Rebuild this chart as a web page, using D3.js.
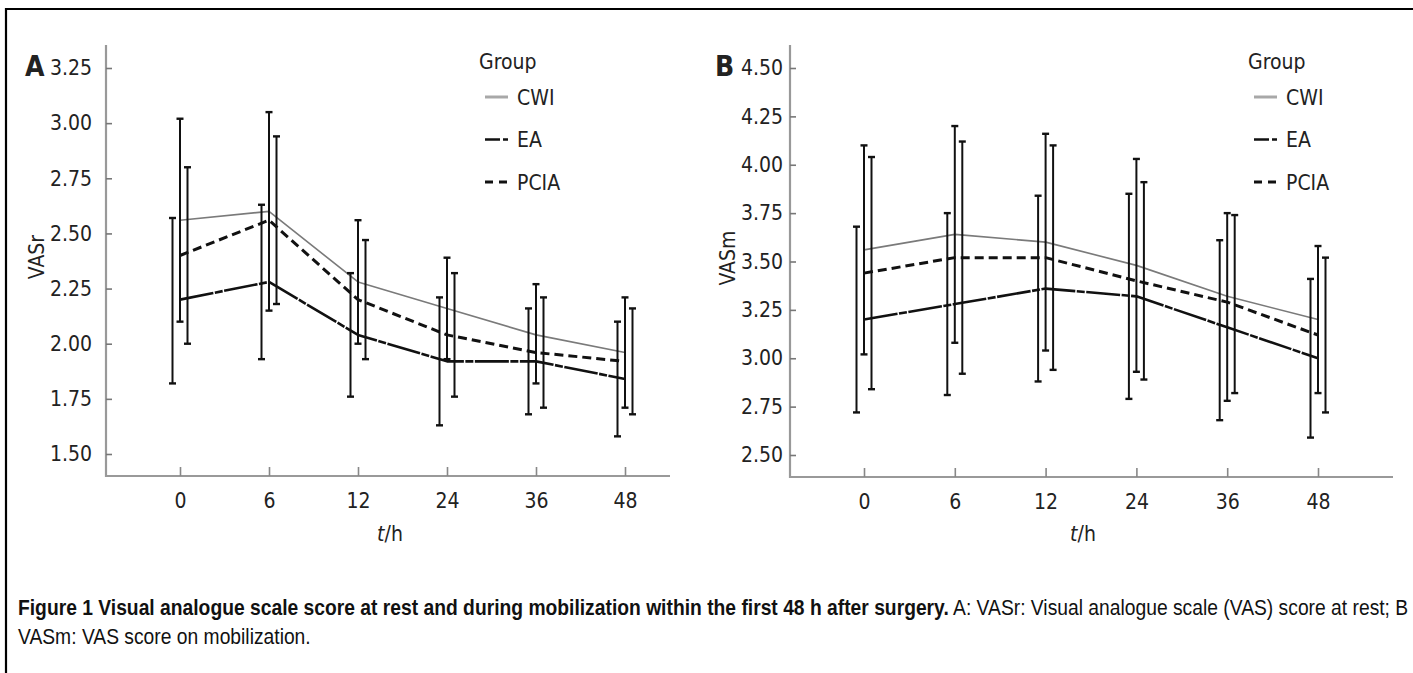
<!DOCTYPE html>
<html>
<head>
<meta charset="utf-8">
<script src="https://cdn.jsdelivr.net/npm/d3@7"></script>
<style>
  html, body { margin: 0; padding: 0; background: #fff; }
  svg { display: block; }
  .tick text, .lbl { font-family: "DejaVu Sans Condensed", "DejaVu Sans", sans-serif; font-stretch: condensed; fill: #222; }
</style>
</head>
<body>
<svg id="chart" width="1413" height="673"></svg>
<script>
// ---------- data ----------
const times = ["0", "6", "12", "24", "36", "48"];
const groups = ["CWI", "EA", "PCIA"];

// Panel A: VASr (score at rest)
const vasrTicks = [1.50, 1.75, 2.00, 2.25, 2.50, 2.75, 3.00, 3.25];
const vasrCWI  = [2.56, 2.60, 2.28, 2.16, 2.04, 1.96];
const vasrEA   = [2.20, 2.28, 2.04, 1.92, 1.92, 1.84];
const vasrPCIA = [2.40, 2.56, 2.20, 2.04, 1.96, 1.92];
const vasrCWILow   = [2.10, 2.15, 2.00, 1.93, 1.82, 1.71];
const vasrCWIHigh  = [3.02, 3.05, 2.56, 2.39, 2.27, 2.21];
const vasrEALow    = [1.82, 1.93, 1.76, 1.63, 1.68, 1.58];
const vasrEAHigh   = [2.57, 2.63, 2.32, 2.21, 2.16, 2.10];
const vasrPCIALow  = [2.00, 2.18, 1.93, 1.76, 1.71, 1.68];
const vasrPCIAHigh = [2.80, 2.94, 2.47, 2.32, 2.21, 2.16];

// Panel B: VASm (score on mobilization)
const vasmTicks = [2.50, 2.75, 3.00, 3.25, 3.50, 3.75, 4.00, 4.25, 4.50];
const vasmCWI  = [3.56, 3.64, 3.60, 3.48, 3.32, 3.20];
const vasmEA   = [3.20, 3.28, 3.36, 3.32, 3.16, 3.00];
const vasmPCIA = [3.44, 3.52, 3.52, 3.40, 3.29, 3.12];
const vasmCWILow   = [3.02, 3.08, 3.04, 2.93, 2.78, 2.82];
const vasmCWIHigh  = [4.10, 4.20, 4.16, 4.03, 3.75, 3.58];
const vasmEALow    = [2.72, 2.81, 2.88, 2.79, 2.68, 2.59];
const vasmEAHigh   = [3.68, 3.75, 3.84, 3.85, 3.61, 3.41];
const vasmPCIALow  = [2.84, 2.92, 2.94, 2.89, 2.82, 2.72];
const vasmPCIAHigh = [4.04, 4.12, 4.10, 3.91, 3.74, 3.52];

const captionBold = "Figure 1  Visual analogue scale score at rest and during mobilization within the first 48 h after surgery.";
const captionNormal = " A: VASr: Visual analogue scale (VAS) score at rest; B";
const captionLine2 = "VASm: VAS score on mobilization.";

// ---------- styles ----------
const styles = {
  CWI:  { stroke: "#7a7a7a", width: 1.6, dash: null, legStroke: "#a8a8a8", legWidth: 3, legDash: null, offset: 0 },
  EA:   { stroke: "#111", width: 2.6, dash: "34,1.5,8,1.5", legStroke: "#111", legWidth: 2.4, legDash: "15,3,5,3", offset: -7.5 },
  PCIA: { stroke: "#111", width: 3, dash: "9,5", legStroke: "#111", legWidth: 3, legDash: "8,6", offset: 7.5 }
};

const svg = d3.select("#chart");
const FONT = 21;

// frame
svg.append("line").attr("x1", 6).attr("x2", 1413).attr("y1", 9).attr("y2", 9)
  .attr("stroke", "#000").attr("stroke-width", 2.2);
svg.append("line").attr("x1", 6).attr("x2", 6).attr("y1", 8).attr("y2", 673)
  .attr("stroke", "#000").attr("stroke-width", 2.2);

function panel(cfg) {
  const g = svg.append("g");
  const x = d3.scalePoint().domain(times).range(cfg.xRange);
  const y = d3.scaleLinear().domain(cfg.yDomain).range(cfg.yRange);

  // axis lines
  g.append("line").attr("x1", cfg.axisX).attr("x2", cfg.axisX).attr("y1", cfg.axisTop).attr("y2", cfg.axisY + 1)
    .attr("stroke", "#999").attr("stroke-width", 2.2);
  g.append("line").attr("x1", cfg.axisX).attr("x2", cfg.axisRight).attr("y1", cfg.axisY).attr("y2", cfg.axisY)
    .attr("stroke", "#999").attr("stroke-width", 2.2);

  // y axis
  const ya = g.append("g").attr("transform", `translate(${cfg.axisX},0)`)
    .call(d3.axisLeft(y).tickValues(cfg.ticks).tickFormat(d3.format(".2f")).tickSize(-6).tickPadding(cfg.yPad));
  ya.select(".domain").remove();
  ya.selectAll(".tick line").attr("stroke", "#777").attr("stroke-width", 1.6);
  ya.selectAll(".tick text").attr("font-size", FONT).attr("fill", "#222");

  // x axis
  const xa = g.append("g").attr("transform", `translate(0,${cfg.axisY})`)
    .call(d3.axisBottom(x).tickSize(-9).tickPadding(17));
  xa.select(".domain").remove();
  xa.selectAll(".tick line").attr("stroke", "#888").attr("stroke-width", 1.6);
  xa.selectAll(".tick text").attr("font-size", FONT).attr("fill", "#222");

  // panel letter
  g.append("text").attr("class", "lbl").attr("x", cfg.letterX).attr("y", 76)
    .attr("font-size", 28).attr("font-weight", "bold").attr("fill", "#000").text(cfg.letter);

  // y label
  g.append("text").attr("class", "lbl")
    .attr("transform", `translate(${cfg.yLabelX},${cfg.yLabelY}) rotate(-90)`)
    .attr("text-anchor", "middle").attr("font-size", FONT).text(cfg.yLabel);

  // x label
  const xl = g.append("text").attr("class", "lbl").attr("x", cfg.xLabelX).attr("y", 541)
    .attr("text-anchor", "middle").attr("font-size", FONT);
  xl.append("tspan").attr("font-style", "italic").text("t");
  xl.append("tspan").text("/h");

  // lines
  const line = d3.line().x((d, i) => x(times[i])).y(d => y(d));
  groups.forEach(grp => {
    const s = styles[grp];
    g.append("path").datum(cfg.means[grp]).attr("d", line)
      .attr("fill", "none").attr("stroke", s.stroke).attr("stroke-width", s.width)
      .attr("stroke-dasharray", s.dash).attr("stroke-linejoin", "round");
  });

  // error bars
  groups.forEach(grp => {
    const s = styles[grp];
    const lo = cfg.lows[grp], hi = cfg.highs[grp];
    const eb = g.append("g");
    times.forEach((t, i) => {
      const cx = x(t) + s.offset;
      eb.append("line").attr("x1", cx).attr("x2", cx).attr("y1", y(lo[i])).attr("y2", y(hi[i]))
        .attr("stroke", "#111").attr("stroke-width", 2);
      [lo[i], hi[i]].forEach(v => {
        eb.append("line").attr("x1", cx - 3.5).attr("x2", cx + 3.5).attr("y1", y(v)).attr("y2", y(v))
          .attr("stroke", "#111").attr("stroke-width", 2.4);
      });
    });
  });

  // legend
  const lg = g.append("g");
  lg.append("text").attr("class", "lbl").attr("x", cfg.legX - 6).attr("y", 69)
    .attr("font-size", FONT).text("Group");
  groups.forEach((grp, i) => {
    const s = styles[grp];
    const ly = 97 + i * 42.5;
    lg.append("line").attr("x1", cfg.legX).attr("x2", cfg.legX + 23).attr("y1", ly).attr("y2", ly)
      .attr("stroke", s.legStroke).attr("stroke-width", s.legWidth).attr("stroke-dasharray", s.legDash);
    lg.append("text").attr("class", "lbl").attr("x", cfg.legX + 32).attr("y", ly).attr("dy", "0.36em")
      .attr("font-size", FONT).text(grp);
  });
}

panel({
  letter: "A", letterX: 25,
  xRange: [180, 625], yDomain: [1.50, 3.25], yRange: [454, 68], ticks: vasrTicks,
  axisX: 106, axisTop: 45, axisY: 476, axisRight: 670, yPad: 14,
  yLabel: "VASr", yLabelX: 44, yLabelY: 257, xLabelX: 390,
  legX: 485,
  means: { CWI: vasrCWI, EA: vasrEA, PCIA: vasrPCIA },
  lows:  { CWI: vasrCWILow, EA: vasrEALow, PCIA: vasrPCIALow },
  highs: { CWI: vasrCWIHigh, EA: vasrEAHigh, PCIA: vasrPCIAHigh }
});

panel({
  letter: "B", letterX: 715,
  xRange: [864, 1318], yDomain: [2.50, 4.50], yRange: [455, 68], ticks: vasmTicks,
  axisX: 790, axisTop: 45, axisY: 477, axisRight: 1393, yPad: 7,
  yLabel: "VASm", yLabelX: 735, yLabelY: 258, xLabelX: 1083,
  legX: 1254,
  means: { CWI: vasmCWI, EA: vasmEA, PCIA: vasmPCIA },
  lows:  { CWI: vasmCWILow, EA: vasmEALow, PCIA: vasmPCIALow },
  highs: { CWI: vasmCWIHigh, EA: vasmEAHigh, PCIA: vasmPCIAHigh }
});

// caption
const capX = 18, capEnd = 1409;
const cap1 = svg.append("text").attr("font-family", "'Liberation Sans', Arial, sans-serif")
  .attr("font-size", 22).attr("fill", "#111").attr("y", 0);
cap1.append("tspan").attr("font-weight", "bold").text(captionBold);
cap1.append("tspan").text(captionNormal);
const w1 = cap1.node().getComputedTextLength();
const sx = (capEnd - capX) / w1;
cap1.attr("transform", `translate(${capX},615) scale(${sx},1)`);
svg.append("text").attr("font-family", "'Liberation Sans', Arial, sans-serif")
  .attr("font-size", 22).attr("fill", "#111")
  .attr("transform", `translate(${capX},644) scale(${sx},1)`).text(captionLine2);
</script>
</body>
</html>
